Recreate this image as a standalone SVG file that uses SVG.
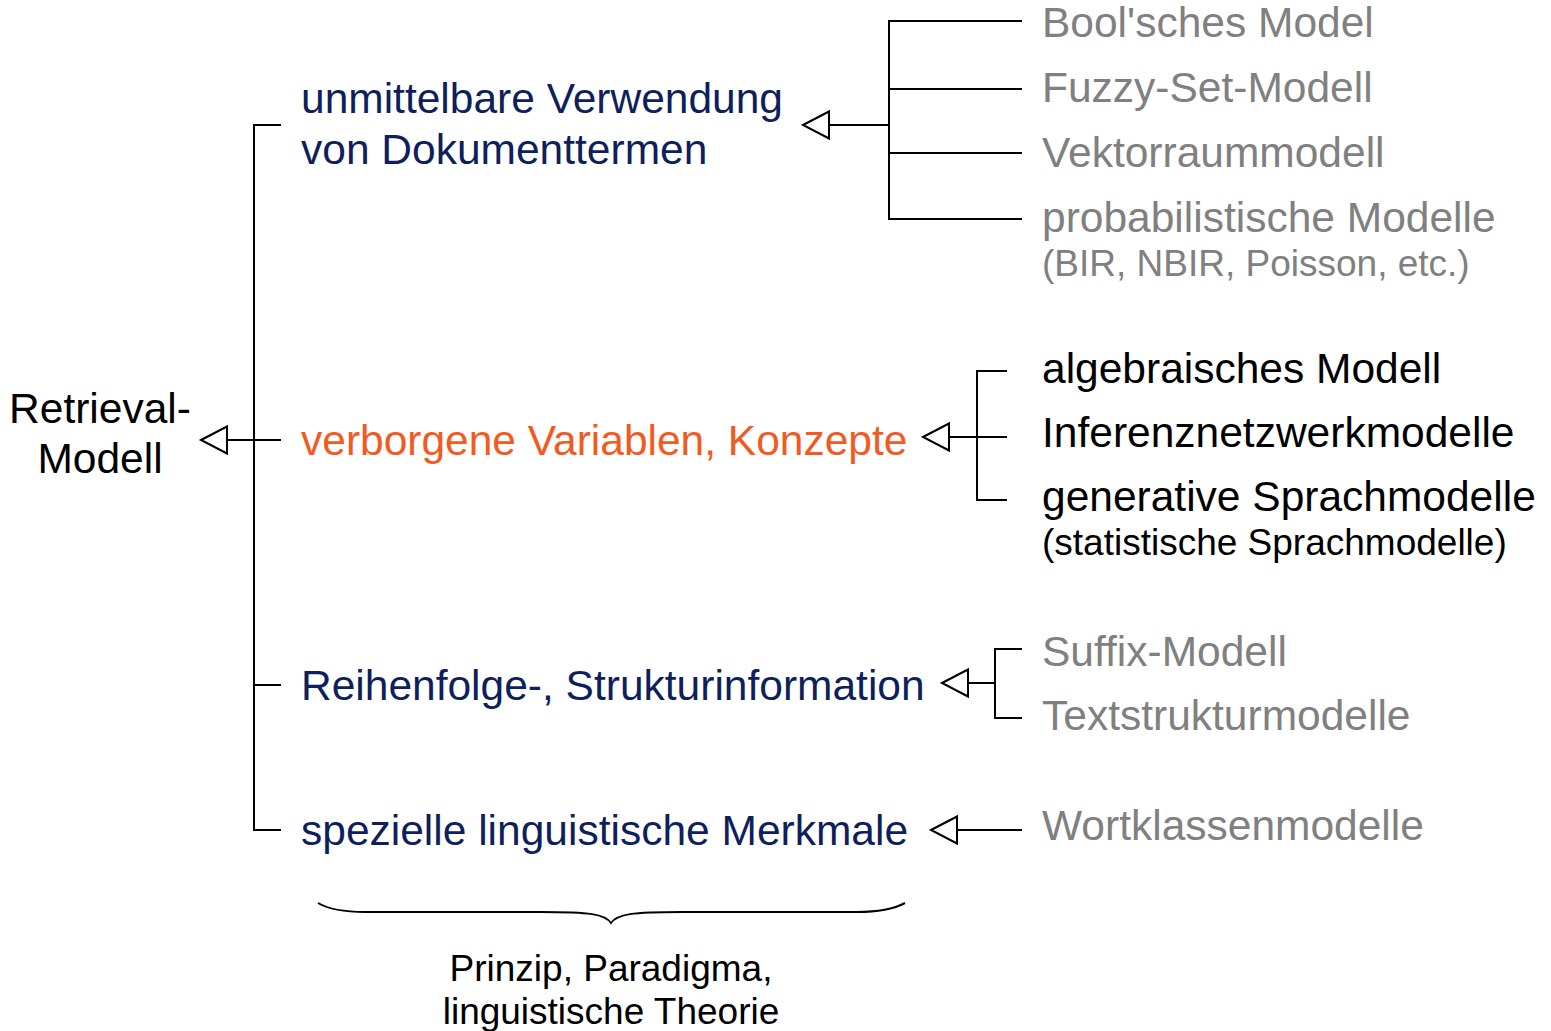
<svg xmlns="http://www.w3.org/2000/svg" width="1551" height="1031" viewBox="0 0 1551 1031">
  <style>
    text { font-family: "Liberation Sans", Arial, Helvetica, sans-serif; }
    .big { font-size: 42.5px; }
    .small { font-size: 37px; }
    .navy { fill: #0f1f5c; }
    .orange { fill: #f25a22; }
    .gray { fill: #808080; }
    .black { fill: #000000; }
    .wire { stroke: #000; stroke-width: 2; fill: none; }
    .head { stroke: #000; stroke-width: 2; fill: #fff; }
  </style>
  <defs>
    <!-- hollow triangular arrowhead, tip at origin, pointing left -->
    <path id="tri" class="head" d="M0,0 L26,-13.5 L26,13.5 Z"/>
  </defs>
  <rect width="1551" height="1031" fill="#fff"/>

  <g id="connectors">
    <!-- main bracket -->
    <path class="wire" d="M281,125 H254 V830 H281"/>
    <path class="wire" d="M254,685 H281"/>
    <path class="wire" d="M227,440 H281"/>
    <use href="#tri" x="201" y="440"/>

    <!-- direct use of document terms -->
    <path class="wire" d="M1022,21 H889 V219 H1022"/>
    <path class="wire" d="M889,89 H1022 M889,153 H1022"/>
    <path class="wire" d="M829,125 H889"/>
    <use href="#tri" x="803" y="125"/>

    <!-- hidden variables -->
    <path class="wire" d="M1007,371 H977 V500 H1007"/>
    <path class="wire" d="M949,437 H1007"/>
    <use href="#tri" x="923" y="437"/>

    <!-- order / structure -->
    <path class="wire" d="M1022,649 H995 V718 H1022"/>
    <path class="wire" d="M968,683 H995"/>
    <use href="#tri" x="942" y="683"/>

    <!-- linguistic features -->
    <path class="wire" d="M957,830 H1022"/>
    <use href="#tri" x="931" y="830"/>

    <!-- curly brace -->
    <path class="wire" d="M318,903 C330,910 345,912 365,912 L540,912 C590,912 605,914 611,923 C617,914 632,912 682,912 L857,912 C877,912 892,910 905,903"/>
  </g>

  <g id="retrieval-modell">
    <text class="big black" x="100" y="423" text-anchor="middle">Retrieval-</text>
    <text class="big black" x="100" y="473" text-anchor="middle">Modell</text>
  </g>

  <g id="dokumentterme">
    <text class="big navy" x="301" y="113">unmittelbare Verwendung</text>
    <text class="big navy" x="301" y="164">von Dokumenttermen</text>
  </g>
  <g id="verborgene-variablen">
    <text class="big orange" x="301" y="455">verborgene Variablen, Konzepte</text>
  </g>
  <g id="strukturinformation">
    <text class="big navy" x="301" y="700">Reihenfolge-, Strukturinformation</text>
  </g>
  <g id="linguistische-merkmale">
    <text class="big navy" x="301" y="845">spezielle linguistische Merkmale</text>
  </g>

  <g id="bool">
    <text class="big gray" x="1042" y="37">Bool'sches Model</text>
  </g>
  <g id="fuzzy">
    <text class="big gray" x="1042" y="102">Fuzzy-Set-Modell</text>
  </g>
  <g id="vektorraum">
    <text class="big gray" x="1042" y="167">Vektorraummodell</text>
  </g>
  <g id="probabilistisch">
    <text class="big gray" x="1042" y="232">probabilistische Modelle</text>
    <text class="small gray" x="1042" y="276">(BIR, NBIR, Poisson, etc.)</text>
  </g>

  <g id="algebraisch">
    <text class="big black" x="1042" y="383">algebraisches Modell</text>
  </g>
  <g id="inferenznetz">
    <text class="big black" x="1042" y="447">Inferenznetzwerkmodelle</text>
  </g>
  <g id="sprachmodelle">
    <text class="big black" x="1042" y="511">generative Sprachmodelle</text>
    <text class="small black" x="1042" y="555">(statistische Sprachmodelle)</text>
  </g>

  <g id="suffix">
    <text class="big gray" x="1042" y="666">Suffix-Modell</text>
  </g>
  <g id="textstruktur">
    <text class="big gray" x="1042" y="730">Textstrukturmodelle</text>
  </g>
  <g id="wortklassen">
    <text class="big gray" x="1042" y="840">Wortklassenmodelle</text>
  </g>

  <g id="prinzip">
    <text class="small black" x="611" y="981" text-anchor="middle">Prinzip, Paradigma,</text>
    <text class="small black" x="611" y="1024" text-anchor="middle">linguistische Theorie</text>
  </g>
</svg>
